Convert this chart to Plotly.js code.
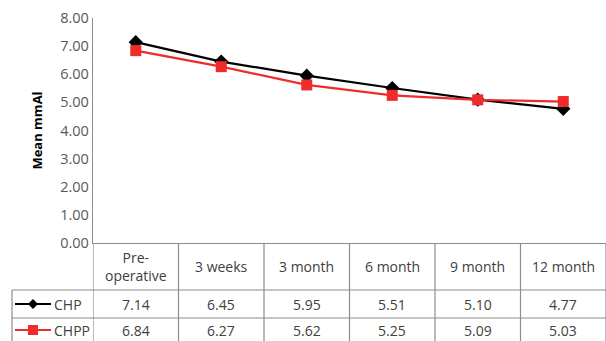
<!DOCTYPE html>
<html>
<head>
<meta charset="utf-8">
<script src="https://cdn.plot.ly/plotly-3.0.1.min.js"></script>
<style>html,body{margin:0;padding:0;background:#fff;}#chart{width:606px;height:341px;}</style>
</head>
<body>
<div id="chart"></div>
<script>
// ---- data ----
const categories = ["Pre-operative", "3 weeks", "3 month", "6 month", "9 month", "12 month"];
const categoryLabels = ["Pre-<br>operative", "3 weeks", "3 month", "6 month", "9 month", "12 month"];
const chp = [7.14, 6.45, 5.95, 5.51, 5.10, 4.77];
const chpp = [6.84, 6.27, 5.62, 5.25, 5.09, 5.03];
const seriesNames = ["CHP", "CHPP"];
const yTicks = [0, 1, 2, 3, 4, 5, 6, 7, 8];

// ---- styles ----
const W = 606, H = 341;
const M = {l: 93, r: 0, t: 18, b: 98};
const plotH = H - M.t - M.b;      // 225
const plotW = W - M.l - M.r;      // 513
const py = p => (H - M.b - p) / plotH;   // pixel y -> paper y
const px = p => (p - M.l) / plotW;       // pixel x -> paper x
const black = '#000000';
const red = '#ef2b2b';
const gridGray = '#8c8c8c';
const textGray = '#404040';
const font = 'Open Sans, Liberation Sans, Arial, sans-serif';

const traces = [
  {x: categories, y: chp, name: seriesNames[0], type: 'scatter', mode: 'lines+markers',
   line: {color: black, width: 2.2}, marker: {symbol: 'diamond', size: 11, color: black}},
  {x: categories, y: chpp, name: seriesNames[1], type: 'scatter', mode: 'lines+markers',
   line: {color: red, width: 2.2}, marker: {symbol: 'square', size: 11, color: red}}
];

const shapes = [];
const annotations = [];
const rowTop = 243, headerBottom = 290, row1Bottom = 318, tableBottom = 345;
// vertical column dividers (at category boundaries)
for (let i = 0; i <= categories.length; i++) {
  shapes.push({type: 'line', xref: 'x', yref: 'paper', x0: i - 0.5, x1: i - 0.5,
    y0: py(rowTop), y1: py(tableBottom), line: {color: gridGray, width: 1.2}});
}
// horizontal row lines spanning from legend column
[headerBottom, row1Bottom].forEach(p => {
  shapes.push({type: 'line', xref: 'paper', yref: 'paper', x0: px(12), x1: 1,
    y0: py(p), y1: py(p), line: {color: gridGray, width: 1.2}});
});
// left border of legend column
shapes.push({type: 'line', xref: 'paper', yref: 'paper', x0: px(12), x1: px(12),
  y0: py(headerBottom), y1: py(tableBottom), line: {color: gridGray, width: 1.2}});

const cellFont = {family: font, size: 14, color: textGray};
// header labels
categories.forEach((c, i) => {
  annotations.push({x: c, xref: 'x', y: py(266), yref: 'paper', text: categoryLabels[i],
    xanchor: 'center', yanchor: 'middle', showarrow: false, font: cellFont, align: 'center'});
});
// values
const rows = [{vals: chp, y: 304}, {vals: chpp, y: 330}];
rows.forEach(r => {
  r.vals.forEach((v, i) => {
    annotations.push({x: categories[i], xref: 'x', y: py(r.y), yref: 'paper', text: v.toFixed(2),
      xanchor: 'center', yanchor: 'middle', showarrow: false, font: cellFont});
  });
});
// legend keys in table
const keyColors = [black, red];
rows.forEach((r, k) => {
  shapes.push({type: 'line', xref: 'paper', yref: 'paper', x0: px(15), x1: px(51),
    y0: py(r.y), y1: py(r.y), line: {color: keyColors[k], width: 2.2}});
  const path = k === 0 ? 'M 0 -5 L 5 0 L 0 5 L -5 0 Z' : 'M -5 -5 L 5 -5 L 5 5 L -5 5 Z';
  shapes.push({type: 'path', xref: 'paper', yref: 'paper', xsizemode: 'pixel', ysizemode: 'pixel',
    xanchor: px(33), yanchor: py(r.y), path: path, fillcolor: keyColors[k], line: {width: 0}});
  annotations.push({x: px(52), xref: 'paper', y: py(r.y), yref: 'paper', text: seriesNames[k],
    xanchor: 'left', yanchor: 'middle', showarrow: false, font: cellFont});
});

const layout = {
  width: W, height: H,
  margin: M,
  paper_bgcolor: '#fff', plot_bgcolor: '#fff',
  showlegend: false,
  xaxis: {type: 'category', range: [-0.5, categories.length - 0.5], showticklabels: false,
    showgrid: false, zeroline: false, showline: true, linecolor: gridGray, linewidth: 1.2, ticks: ''},
  yaxis: {range: [0, 8], tickvals: yTicks, tickformat: '.2f', showgrid: false, zeroline: false,
    showline: true, linecolor: gridGray, linewidth: 1.2, ticks: '', 
    tickfont: {family: font, size: 14.5, color: '#595959'},
    title: {text: 'Mean mmAl', font: {family: font, size: 13, color: '#000', weight: 'bold'}, standoff: 14}},
  shapes: shapes,
  annotations: annotations
};
Plotly.newPlot('chart', traces, layout, {displayModeBar: false, staticPlot: true});
</script>
</body>
</html>
